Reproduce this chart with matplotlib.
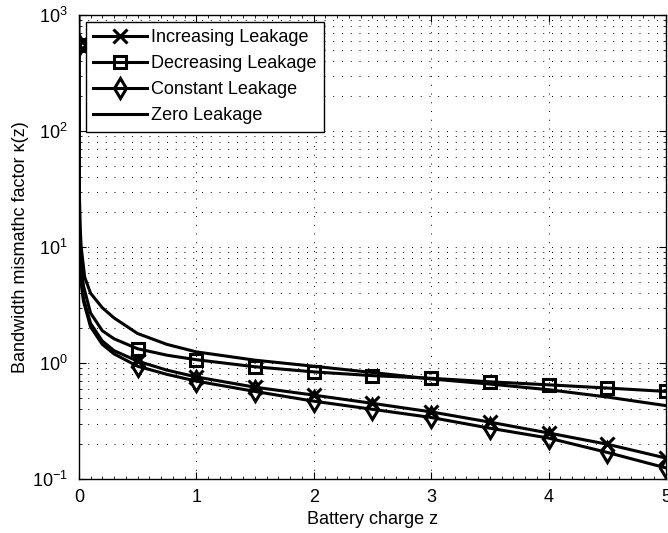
import numpy as np
import matplotlib
matplotlib.use('Agg')
import matplotlib.pyplot as plt
from matplotlib.ticker import LogLocator, MultipleLocator, NullFormatter

plt.rcParams['font.family'] = ['Liberation Sans', 'DejaVu Sans']

# battery charge grid (dense near 0, markers every 0.5)
z = [0, 0.005, 0.01, 0.02, 0.04, 0.1, 0.2, 0.3, 0.5, 0.75, 1.0, 1.5, 2.0,
     2.5, 3.0, 3.5, 4.0, 4.5, 5.0]
mark_idx = [0, 8, 10, 11, 12, 13, 14, 15, 16, 17, 18]

k_increasing = [550, 15, 8.5, 5.2, 3.6, 2.2, 1.55, 1.28, 1.04, 0.87, 0.76,
                0.62, 0.53, 0.45, 0.38, 0.31, 0.25, 0.20, 0.152]
k_decreasing = [550, 25, 12, 7.0, 4.6, 2.7, 1.9, 1.62, 1.33, 1.17, 1.07,
                0.93, 0.84, 0.78, 0.74, 0.69, 0.65, 0.61, 0.57]
k_constant = [550, 14, 8.0, 5.0, 3.4, 2.05, 1.45, 1.2, 0.94, 0.80, 0.70,
              0.57, 0.47, 0.40, 0.34, 0.275, 0.226, 0.17, 0.125]

z_zero = [0.0005, 0.001, 0.002, 0.005, 0.01, 0.02, 0.05, 0.1, 0.2, 0.3, 0.5,
          0.75, 1.0, 1.5, 2.0, 2.5, 3.0, 3.5, 4.0, 4.5, 5.0]
k_zero = [2000, 900, 150, 30, 16, 10, 5.5, 4.0, 3.0, 2.45, 1.8, 1.45, 1.25,
          1.06, 0.94, 0.83, 0.73, 0.66, 0.59, 0.51, 0.43]

fig = plt.figure(figsize=(6.68, 5.33), dpi=100)
ax = fig.add_axes([0.118, 0.101, 0.879, 0.871])

lw = 2.2
ax.semilogy(z, k_increasing, 'k-', marker='x', markevery=mark_idx, lw=lw,
            ms=10, mew=2.2, label='Increasing Leakage')
ax.semilogy(z, k_decreasing, 'k-', marker='s', markevery=mark_idx, lw=lw,
            ms=9, mew=2.2, mfc='none', label='Decreasing Leakage')
ax.semilogy(z, k_constant, 'k-', marker='d', markevery=mark_idx, lw=lw,
            ms=10, mew=2.2, mfc='none', label='Constant Leakage')
ax.semilogy(z_zero, k_zero, 'k-', lw=lw, label='Zero Leakage')

ax.set_xlim(0, 5)
ax.set_ylim(0.1, 1000)
ax.xaxis.set_major_locator(MultipleLocator(1))
ax.xaxis.set_minor_locator(MultipleLocator(0.1))
ax.yaxis.set_major_locator(LogLocator(base=10))
ax.yaxis.set_minor_locator(LogLocator(base=10, subs=np.arange(2, 10)))
ax.yaxis.set_minor_formatter(NullFormatter())

dots = (0, (1, 8))
ax.grid(True, which='major', axis='both', color='k', ls=dots, lw=0.7)
ax.grid(True, which='minor', axis='y', color='k', ls=dots, lw=0.7)

ax.tick_params(which='both', direction='in', top=True, right=True,
               labelsize=13)
ax.tick_params(which='major', length=5)
ax.tick_params(which='minor', length=2)
ax.tick_params(axis='x', which='major', pad=7)
ax.tick_params(axis='y', which='major', pad=8)
for s in ax.spines.values():
    s.set_linewidth(1.0)

ax.set_xlabel('Battery charge z', fontsize=13, labelpad=4)
ax.set_ylabel('Bandwidth mismathc factor \u03ba(z)', fontsize=13, labelpad=2)

leg = ax.legend(loc='upper left', fontsize=13, handlelength=3.0,
                fancybox=False, framealpha=1, edgecolor='k',
                borderaxespad=0.4, labelspacing=0.5, handletextpad=0.2,
                borderpad=0.4)
leg.get_frame().set_linewidth(1.0)

fig.savefig('out.png', dpi=100)
